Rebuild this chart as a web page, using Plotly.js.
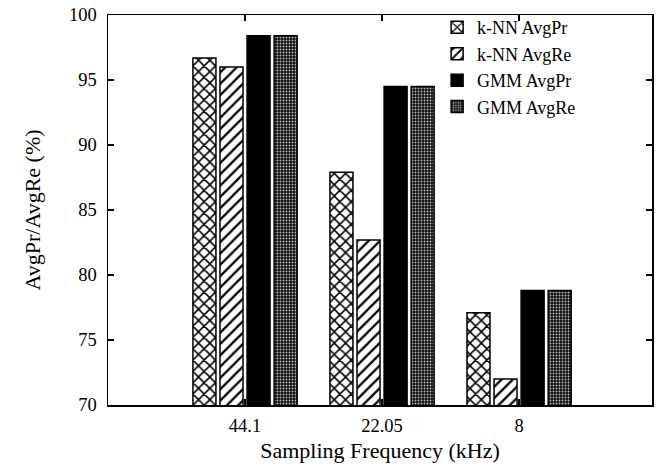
<!DOCTYPE html>
<html>
<head>
<meta charset="utf-8">
<script src="https://cdn.plot.ly/plotly-3.0.1.min.js"></script>
<style>html,body{margin:0;padding:0;background:#fff;}#chart{width:658px;height:464px;}</style>
</head>
<body>
<div id="chart"></div>
<script>
const categories = ["44.1", "22.05", "8"];
const seriesNames = ["k-NN AvgPr", "k-NN AvgRe", "GMM AvgPr", "GMM AvgRe"];
const knnPr = [96.7, 87.9, 77.1];
const knnRe = [96.0, 82.7, 72.0];
const gmmPr = [98.4, 94.5, 78.8];
const gmmRe = [98.4, 94.5, 78.8];
const yTicks = [70, 75, 80, 85, 90, 95, 100];

const values = [knnPr, knnRe, gmmPr, gmmRe];
const patterns = [
  {shape: "x", fgcolor: "#000", bgcolor: "#fff", size: 8, solidity: 0.35},
  {shape: "/", fgcolor: "#000", bgcolor: "#fff", size: 8, solidity: 0.28},
  {shape: "", fgcolor: "#000", bgcolor: "#000"},
  {shape: ".", fgcolor: "#bbb", bgcolor: "#111", size: 3, solidity: 0.3}
];
const fills = ["#fff", "#fff", "#000", "#111"];

const xs = categories.map((c, i) => i);
const traces = values.map((v, k) => ({
  type: "bar",
  name: seriesNames[k],
  x: xs,
  y: v,
  marker: {
    color: fills[k],
    line: {color: "#000", width: 1.5},
    pattern: patterns[k]
  }
}));

const serif = "Liberation Serif";
const layout = {
  width: 658, height: 464,
  margin: {l: 108, r: 6, t: 15, b: 59},
  paper_bgcolor: "#fff", plot_bgcolor: "#fff",
  barmode: "group",
  bargap: 0.21,
  bargroupgap: 0.15,
  showlegend: true,
  legend: {
    x: 0.605, y: 1.015, xanchor: "left", yanchor: "top",
    bgcolor: "rgba(0,0,0,0)", borderwidth: 0,
    font: {family: serif, size: 18, color: "#000"},
    traceorder: "normal"
  },
  font: {family: serif, color: "#000"},
  xaxis: {
    range: [-1, 2.97],
    tickmode: "array", tickvals: xs, ticktext: categories,
    ticks: "inside", ticklen: 6, tickwidth: 1.2, tickcolor: "#000",
    showline: true, linecolor: "#000", linewidth: 1.5, mirror: "ticks",
    showgrid: false, zeroline: false,
    tickfont: {family: serif, size: 18.5, color: "#000"},
    ticklabelstandoff: 3,
    title: {text: "Sampling Frequency (kHz)", font: {family: serif, size: 22, color: "#000"}, standoff: 8}
  },
  yaxis: {
    range: [70, 100],
    tickmode: "array", tickvals: yTicks,
    ticks: "inside", ticklen: 6, tickwidth: 1.2, tickcolor: "#000",
    showline: true, linecolor: "#000", linewidth: 1.5, mirror: "ticks",
    showgrid: false, zeroline: false,
    tickfont: {family: serif, size: 18.5, color: "#000"},
    ticklabelstandoff: 6,
    title: {text: "AvgPr/AvgRe (%)", font: {family: serif, size: 22, color: "#000"}, standoff: 22}
  }
};

Plotly.newPlot("chart", traces, layout, {displayModeBar: false, staticPlot: true});
</script>
</body>
</html>
